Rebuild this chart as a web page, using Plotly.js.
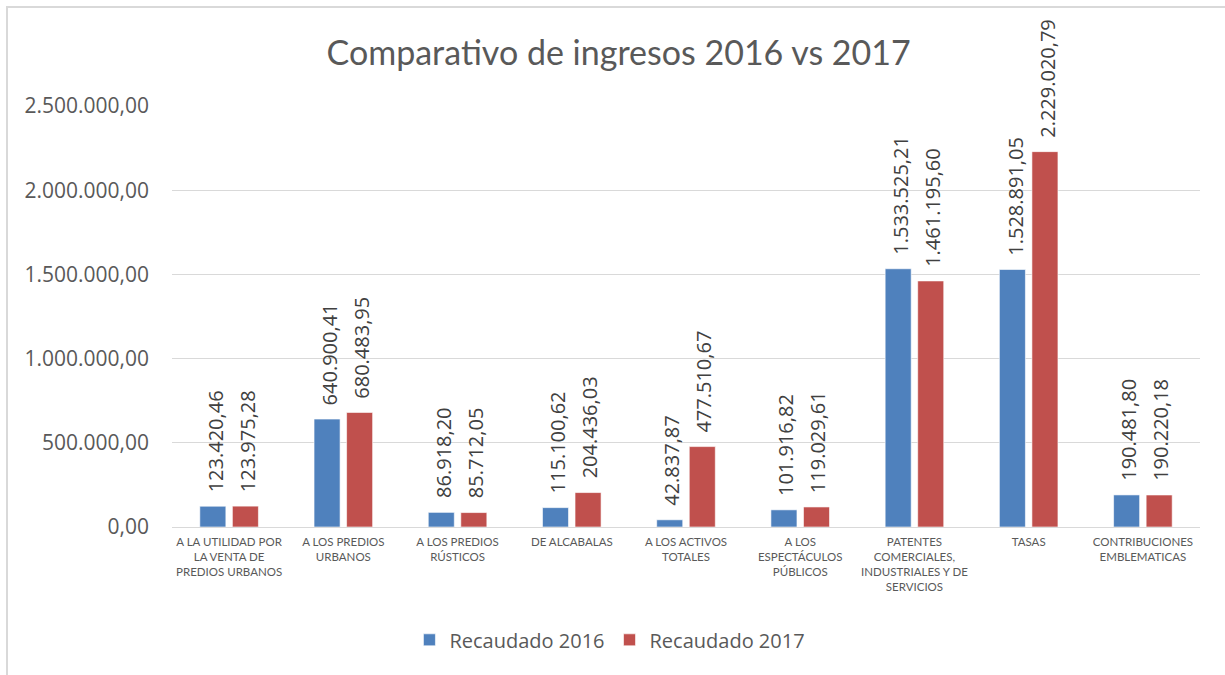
<!DOCTYPE html>
<html>
<head>
<meta charset="utf-8">
<script src="https://cdn.plot.ly/plotly-3.0.1.min.js"></script>
<style>
  html, body { margin: 0; padding: 0; background: #fff; }
  #wrap { position: relative; width: 1225px; height: 675px; }
  #chart { position: absolute; left: 0; top: 0; width: 1225px; height: 675px; }
  #frame { position: absolute; left: 6px; top: 6px; width: 1225px; height: 675px;
           border-left: 2px solid #d9d9d9; border-top: 2px solid #d9d9d9; pointer-events: none; }
</style>
</head>
<body>
<div id="wrap">
  <div id="chart"></div>
  <div id="frame"></div>
</div>
<script>
const categories = [
  "A LA UTILIDAD POR<br>LA VENTA DE<br>PREDIOS URBANOS",
  "A LOS PREDIOS<br>URBANOS",
  "A LOS PREDIOS<br>RÚSTICOS",
  "DE ALCABALAS",
  "A LOS ACTIVOS<br>TOTALES",
  "A LOS<br>ESPECTÁCULOS<br>PÚBLICOS",
  "PATENTES<br>COMERCIALES,<br>INDUSTRIALES Y DE<br>SERVICIOS",
  "TASAS",
  "CONTRIBUCIONES<br>EMBLEMATICAS"
];
const recaudado2016 = [123420.46, 640900.41, 86918.20, 115100.62, 42837.87, 101916.82, 1533525.21, 1528891.05, 190481.80];
const recaudado2017 = [123975.28, 680483.95, 85712.05, 204436.03, 477510.67, 119029.61, 1461195.60, 2229020.79, 190220.18];
const seriesNames = ["Recaudado 2016", "Recaudado 2017"];
const yTicks = [0, 500000, 1000000, 1500000, 2000000, 2500000];

function fmt(v) {
  const parts = v.toFixed(2).split(".");
  const intPart = parts[0].replace(/\B(?=(\d{3})+(?!\d))/g, ".");
  return intPart + "," + parts[1];
}

const FONT = "Lato, 'Open Sans', sans-serif";
const FONT2 = "'Open Sans', 'Noto Sans', sans-serif";
const colors = ["#4F81BD", "#C0504D"];

const traces = [recaudado2016, recaudado2017].map((vals, i) => ({
  type: "bar",
  name: seriesNames[i],
  x: categories,
  y: vals,
  marker: { color: colors[i], line: { color: "rgba(255,255,255,0.6)", width: 1 } },
  hoverinfo: "none"
}));

const annotations = [];
[recaudado2016, recaudado2017].forEach((vals, i) => {
  vals.forEach((v, j) => {
    annotations.push({
      x: categories[j], y: v, xref: "x", yref: "y",
      text: fmt(v), showarrow: false, textangle: -90,
      xanchor: "center", yanchor: "bottom",
      xshift: i === 0 ? -14 : 18, yshift: 12,
      font: { family: FONT2, size: 20, color: "#404040" }
    });
  });
});

const layout = {
  width: 1225, height: 675,
  paper_bgcolor: "#ffffff", plot_bgcolor: "#ffffff",
  separators: ",.",
  margin: { l: 172, r: 25, t: 106, b: 148 },
  title: { text: "Comparativo de ingresos 2016 vs 2017", x: 0.505, xanchor: "center", y: 0.922, yanchor: "middle",
           font: { family: FONT, size: 34, color: "#595959" } },
  barmode: "group",
  bargap: 0.43,
  bargroupgap: 0.2,
  xaxis: {
    type: "category",
    tickfont: { family: FONT, size: 11.5, color: "#595959" },
    showgrid: false, showline: true, linecolor: "#d9d9d9", linewidth: 1,
    ticks: "", automargin: false, ticklabelstandoff: 4
  },
  yaxis: {
    range: [0, 2500000],
    tickvals: yTicks,
    tickformat: ",.2f",
    tickfont: { family: FONT2, size: 21, color: "#595959" },
    showgrid: true, gridcolor: "#d9d9d9", gridwidth: 1,
    zeroline: true, zerolinecolor: "#d9d9d9", zerolinewidth: 1,
    showline: false, ticks: "", ticklabelstandoff: 22, automargin: false
  },
  showlegend: true,
  legend: {
    orientation: "h", x: 0.426, xanchor: "center", y: -0.268, yanchor: "middle",
    font: { family: FONT2, size: 20, color: "#595959" },
    itemwidth: 30, tracegroupgap: 0
  },
  annotations: annotations
};

Plotly.newPlot("chart", traces, layout, { staticPlot: true, displayModeBar: false });
</script>
</body>
</html>
